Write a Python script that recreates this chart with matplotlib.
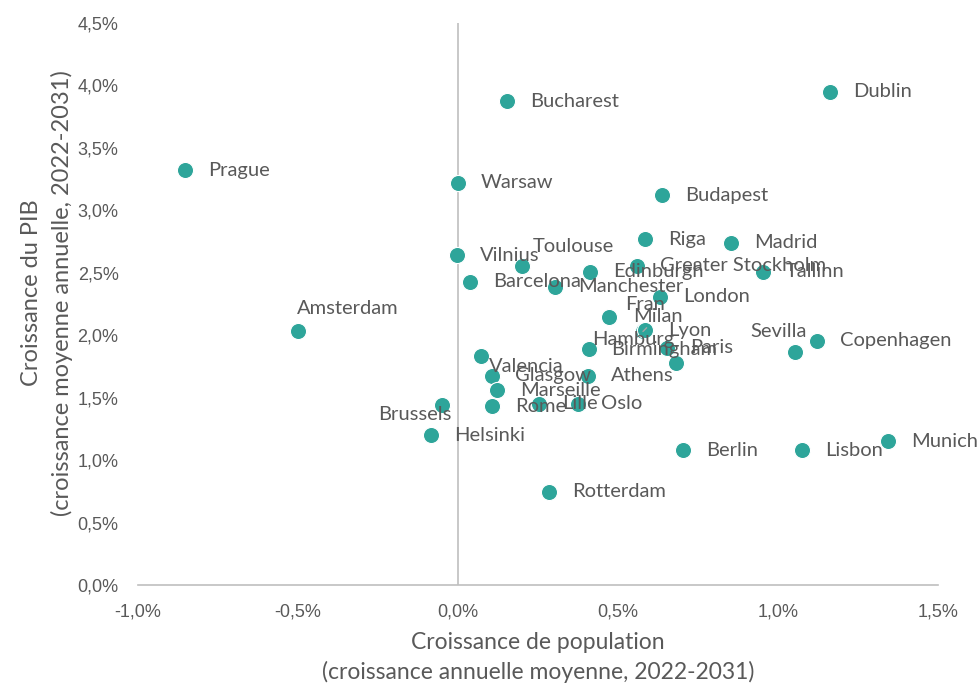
import matplotlib
matplotlib.use("Agg")
import matplotlib.pyplot as plt
from matplotlib.ticker import FuncFormatter

# city data: population growth (%) vs GDP growth (%), 2022-2031
cities = ["Prague", "Amsterdam", "Bucharest", "Dublin", "Warsaw", "Budapest",
          "Vilnius", "Toulouse", "Barcelona", "Manchester", "Edinburgh", "Riga",
          "Madrid", "Greater Stockholm", "Tallinn", "London", "Fran", "Milan",
          "Lyon", "Birmingham", "Paris", "Hamburg", "Sevilla", "Copenhagen",
          "Valencia", "Glasgow", "Marseille", "Athens", "Rome", "Lille", "Oslo",
          "Brussels", "Helsinki", "Berlin", "Lisbon", "Munich", "Rotterdam"]
pop_growth = [-0.853, -0.50, 0.153, 1.163, 0.0, 0.638,
              -0.003, 0.200, 0.038, 0.303, 0.413, 0.584,
              0.853, 0.559, 0.953, 0.631, 0.472, 0.578,
              0.584, 0.409, 0.653, 0.681, 1.053, 1.122,
              0.072, 0.106, 0.122, 0.406, 0.106, 0.253, 0.375,
              -0.050, -0.084, 0.703, 1.075, 1.344, 0.284]
gdp_growth = [3.32, 2.03, 3.875, 3.95, 3.22, 3.12,
              2.64, 2.555, 2.43, 2.39, 2.51, 2.77,
              2.74, 2.555, 2.51, 2.31, 2.145, 2.03,
              2.04, 1.89, 1.90, 1.78, 1.865, 1.955,
              1.835, 1.675, 1.56, 1.675, 1.43, 1.45, 1.45,
              1.44, 1.20, 1.08, 1.08, 1.15, 0.745]

# label placement (pixels from the dot), default is to the right
moved = {
    "Amsterdam": (-1, 23, "left"),
    "Toulouse": (11, 19, "left"),
    "Fran": (16, 13, "left"),
    "Milan": (-10, 15, "left"),
    "Hamburg": (-84, 23, "left"),
    "Birmingham": (22, -1, "left"),
    "Sevilla": (-45, 21, "left"),
    "Valencia": (8, -11, "left"),
    "Brussels": (9, -9, "right"),
}

teal = "#2ea59a"
grey = "#595959"
label_font = "Lato"

fig = plt.figure(figsize=(9.78, 6.83), dpi=100)
ax = fig.add_axes([138/978, 1-585/683, 800/978, 562/683])

ax.scatter(pop_growth, gdp_growth, s=135, color=teal, edgecolors="white",
           linewidths=0.8, zorder=3)

for name, x, y in zip(cities, pop_growth, gdp_growth):
    dx, dy, ha = moved.get(name, (23, 0, "left"))
    if name == "Milan":
        ax.annotate(name, (x, y), xytext=(dx, dy), textcoords="offset pixels",
                    ha=ha, va="center", fontsize=14.5, color=grey,
                    family=label_font, zorder=4,
                    arrowprops=dict(arrowstyle="-", color="#a6a6a6", lw=1,
                                    shrinkA=6, shrinkB=4))
    else:
        ax.annotate(name, (x, y), xytext=(dx, dy), textcoords="offset pixels",
                    ha=ha, va="center", fontsize=14.5, color=grey,
                    family=label_font, zorder=4)

ax.set_xlim(-1.0, 1.5)
ax.set_ylim(0.0, 4.5)
ax.set_xticks([-1.0, -0.5, 0.0, 0.5, 1.0, 1.5])
ax.set_yticks([0.0, 0.5, 1.0, 1.5, 2.0, 2.5, 3.0, 3.5, 4.0, 4.5])
fmt = FuncFormatter(lambda v, p: f"{v:.1f}%".replace(".", ","))
ax.xaxis.set_major_formatter(fmt)
ax.yaxis.set_major_formatter(fmt)
ax.tick_params(length=0, labelsize=13, colors=grey)
ax.tick_params(axis="x", pad=13)
ax.tick_params(axis="y", pad=14)
for lab in ax.get_xticklabels() + ax.get_yticklabels():
    lab.set_family("Liberation Sans")

for s in ["top", "right", "left"]:
    ax.spines[s].set_visible(False)
ax.spines["bottom"].set_color("#bfbfbf")
ax.spines["bottom"].set_linewidth(1.2)
ax.axvline(0, color="#bfbfbf", lw=1.2, zorder=1)

ax.set_xlabel("Croissance de population\n(croissance annuelle moyenne, 2022-2031)",
              fontsize=16.5, color=grey, family=label_font, linespacing=1.45)
ax.set_ylabel("Croissance du PIB\n(croissance moyenne annuelle, 2022-2031)",
              fontsize=17, color=grey, family=label_font, linespacing=1.47)
ax.xaxis.set_label_coords(0.5, -(632 - 585) / 562)
ax.yaxis.set_label_coords(-(138 - 73) / 800, 0.52)

fig.savefig("out.png", dpi=100)
